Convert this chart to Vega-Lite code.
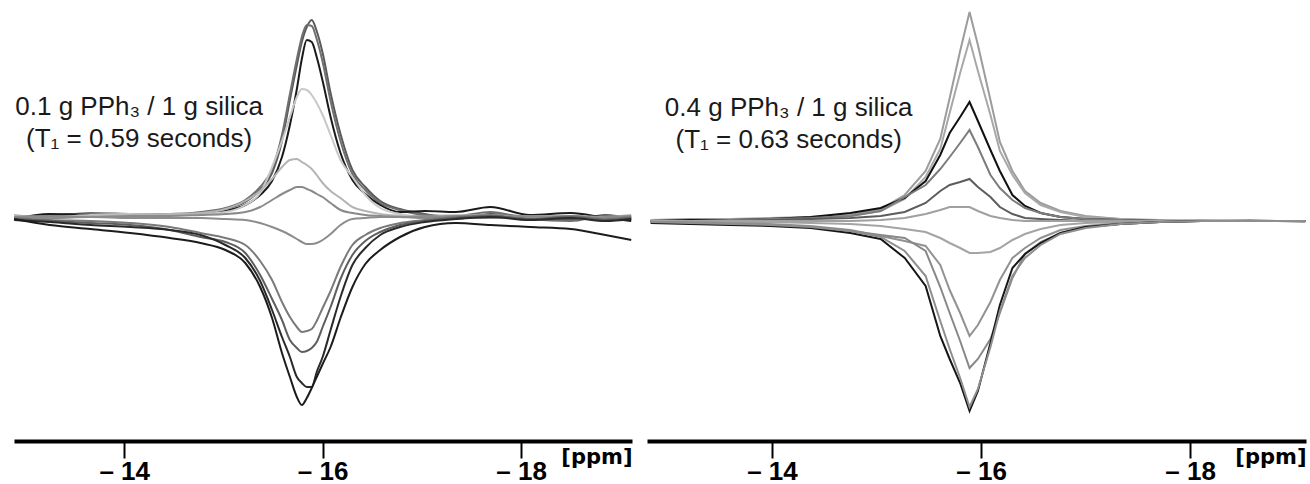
{
"$schema": "https://vega.github.io/schema/vega-lite/v6.json",
"padding": {"left": 10, "top": 0, "right": 0, "bottom": 0},
"background": "white",
"spacing": 15,
"bounds": "flush",
"config": {"view": {"stroke": null}, "font": "Liberation Sans"},
"resolve": {"scale": {"color": "independent", "x": "independent", "y": "independent"}},
"hconcat": [
{
"width": 618, "height": 441,
"encoding": {
 "x": {"field": "x", "type": "quantitative", "scale": {"domain": [-19.118, -12.889], "reverse": true, "nice": false, "zero": false},
  "axis": {"values": [-14, -16, -18], "labelExpr": "'– ' + abs(datum.value)", "domainColor": "black", "domainWidth": 4, "tickColor": "black", "tickWidth": 2, "tickSize": 17, "labelFont": "Liberation Sans", "labelFontWeight": "bold", "labelFontSize": 26, "labelColor": "black", "labelPadding": 26, "labelBaseline": "bottom", "labelFlush": false, "labelOverlap": false, "grid": false, "title": "[ppm]", "titleFont": "DejaVu Sans", "titleFontSize": 21, "titleFontWeight": "bold", "titleColor": "black", "titleAlign": "right", "titleX": 618, "titleY": 22, "titleBaseline": "alphabetic"}},
 "y": {"field": "y", "type": "quantitative", "scale": {"domain": [-224, 217], "nice": false, "zero": false}, "axis": null}
},
"layer": [
{
"data": {"values": [
{"s":"L1","x":-12.89,"y":-1},{"s":"L1","x":-13.25,"y":2},{"s":"L1","x":-13.66,"y":3},{"s":"L1","x":-14.06,"y":2},{"s":"L1","x":-14.46,"y":3},{"s":"L1","x":-14.77,"y":4},{"s":"L1","x":-15.02,"y":8},{"s":"L1","x":-15.22,"y":15},{"s":"L1","x":-15.37,"y":27},{"s":"L1","x":-15.49,"y":44},{"s":"L1","x":-15.59,"y":76},{"s":"L1","x":-15.67,"y":117},{"s":"L1","x":-15.74,"y":152},{"s":"L1","x":-15.79,"y":175},{"s":"L1","x":-15.84,"y":190},{"s":"L1","x":-15.89,"y":197},{"s":"L1","x":-15.94,"y":186},{"s":"L1","x":-16.0,"y":164},{"s":"L1","x":-16.08,"y":124},{"s":"L1","x":-16.18,"y":83},{"s":"L1","x":-16.3,"y":47},{"s":"L1","x":-16.43,"y":30},{"s":"L1","x":-16.58,"y":16},{"s":"L1","x":-16.78,"y":8},{"s":"L1","x":-17.03,"y":3},{"s":"L1","x":-17.34,"y":-2},{"s":"L1","x":-17.69,"y":3},{"s":"L1","x":-18.09,"y":0},{"s":"L1","x":-18.5,"y":-3},{"s":"L1","x":-18.85,"y":2},{"s":"L1","x":-19.11,"y":-2},
{"s":"L2","x":-12.89,"y":0},{"s":"L2","x":-13.25,"y":1},{"s":"L2","x":-13.66,"y":4},{"s":"L2","x":-14.06,"y":3},{"s":"L2","x":-14.46,"y":2},{"s":"L2","x":-14.77,"y":5},{"s":"L2","x":-15.02,"y":9},{"s":"L2","x":-15.22,"y":17},{"s":"L2","x":-15.37,"y":30},{"s":"L2","x":-15.49,"y":48},{"s":"L2","x":-15.59,"y":82},{"s":"L2","x":-15.67,"y":123},{"s":"L2","x":-15.74,"y":158},{"s":"L2","x":-15.79,"y":180},{"s":"L2","x":-15.84,"y":192},{"s":"L2","x":-15.89,"y":191},{"s":"L2","x":-15.94,"y":178},{"s":"L2","x":-16.0,"y":155},{"s":"L2","x":-16.08,"y":116},{"s":"L2","x":-16.18,"y":76},{"s":"L2","x":-16.3,"y":43},{"s":"L2","x":-16.43,"y":27},{"s":"L2","x":-16.58,"y":14},{"s":"L2","x":-16.78,"y":7},{"s":"L2","x":-17.03,"y":2},{"s":"L2","x":-17.34,"y":1},{"s":"L2","x":-17.69,"y":5},{"s":"L2","x":-18.09,"y":-2},{"s":"L2","x":-18.5,"y":-4},{"s":"L2","x":-18.85,"y":1},{"s":"L2","x":-19.11,"y":-3},
{"s":"L3","x":-12.89,"y":-2},{"s":"L3","x":-13.25,"y":3},{"s":"L3","x":-13.66,"y":2},{"s":"L3","x":-14.06,"y":1},{"s":"L3","x":-14.46,"y":2},{"s":"L3","x":-14.77,"y":3},{"s":"L3","x":-15.02,"y":6},{"s":"L3","x":-15.22,"y":12},{"s":"L3","x":-15.37,"y":22},{"s":"L3","x":-15.49,"y":36},{"s":"L3","x":-15.59,"y":60},{"s":"L3","x":-15.67,"y":92},{"s":"L3","x":-15.74,"y":128},{"s":"L3","x":-15.79,"y":158},{"s":"L3","x":-15.84,"y":177},{"s":"L3","x":-15.89,"y":175},{"s":"L3","x":-15.94,"y":160},{"s":"L3","x":-16.0,"y":136},{"s":"L3","x":-16.08,"y":100},{"s":"L3","x":-16.18,"y":64},{"s":"L3","x":-16.3,"y":37},{"s":"L3","x":-16.43,"y":23},{"s":"L3","x":-16.58,"y":12},{"s":"L3","x":-16.78,"y":5},{"s":"L3","x":-17.03,"y":6},{"s":"L3","x":-17.34,"y":5},{"s":"L3","x":-17.69,"y":10},{"s":"L3","x":-18.09,"y":2},{"s":"L3","x":-18.5,"y":4},{"s":"L3","x":-18.85,"y":-1},{"s":"L3","x":-19.11,"y":-4},
{"s":"L4","x":-12.89,"y":1},{"s":"L4","x":-13.25,"y":0},{"s":"L4","x":-13.66,"y":2},{"s":"L4","x":-14.06,"y":3},{"s":"L4","x":-14.46,"y":2},{"s":"L4","x":-14.77,"y":3},{"s":"L4","x":-15.02,"y":5},{"s":"L4","x":-15.22,"y":12},{"s":"L4","x":-15.37,"y":24},{"s":"L4","x":-15.49,"y":50},{"s":"L4","x":-15.59,"y":76},{"s":"L4","x":-15.67,"y":100},{"s":"L4","x":-15.74,"y":120},{"s":"L4","x":-15.79,"y":128},{"s":"L4","x":-15.84,"y":127},{"s":"L4","x":-15.89,"y":122},{"s":"L4","x":-15.94,"y":114},{"s":"L4","x":-16.0,"y":102},{"s":"L4","x":-16.08,"y":82},{"s":"L4","x":-16.18,"y":57},{"s":"L4","x":-16.3,"y":40},{"s":"L4","x":-16.43,"y":22},{"s":"L4","x":-16.58,"y":9},{"s":"L4","x":-16.78,"y":3},{"s":"L4","x":-17.03,"y":0},{"s":"L4","x":-17.34,"y":2},{"s":"L4","x":-17.69,"y":-1},{"s":"L4","x":-18.09,"y":1},{"s":"L4","x":-18.5,"y":0},{"s":"L4","x":-18.85,"y":-2},{"s":"L4","x":-19.11,"y":1},
{"s":"L5","x":-12.89,"y":2},{"s":"L5","x":-13.25,"y":-1},{"s":"L5","x":-13.66,"y":1},{"s":"L5","x":-14.06,"y":2},{"s":"L5","x":-14.46,"y":3},{"s":"L5","x":-14.77,"y":4},{"s":"L5","x":-15.02,"y":8},{"s":"L5","x":-15.22,"y":16},{"s":"L5","x":-15.37,"y":26},{"s":"L5","x":-15.49,"y":38},{"s":"L5","x":-15.59,"y":50},{"s":"L5","x":-15.67,"y":57},{"s":"L5","x":-15.74,"y":58},{"s":"L5","x":-15.79,"y":55},{"s":"L5","x":-15.84,"y":52},{"s":"L5","x":-15.89,"y":48},{"s":"L5","x":-15.94,"y":42},{"s":"L5","x":-16.0,"y":34},{"s":"L5","x":-16.08,"y":26},{"s":"L5","x":-16.18,"y":19},{"s":"L5","x":-16.3,"y":10},{"s":"L5","x":-16.43,"y":6},{"s":"L5","x":-16.58,"y":3},{"s":"L5","x":-16.78,"y":1},{"s":"L5","x":-17.03,"y":-1},{"s":"L5","x":-17.34,"y":1},{"s":"L5","x":-17.69,"y":2},{"s":"L5","x":-18.09,"y":-1},{"s":"L5","x":-18.5,"y":1},{"s":"L5","x":-18.85,"y":0},{"s":"L5","x":-19.11,"y":2},
{"s":"L6","x":-12.89,"y":0},{"s":"L6","x":-13.25,"y":1},{"s":"L6","x":-13.66,"y":0},{"s":"L6","x":-14.06,"y":1},{"s":"L6","x":-14.46,"y":1},{"s":"L6","x":-14.77,"y":2},{"s":"L6","x":-15.02,"y":3},{"s":"L6","x":-15.22,"y":5},{"s":"L6","x":-15.37,"y":10},{"s":"L6","x":-15.49,"y":17},{"s":"L6","x":-15.59,"y":23},{"s":"L6","x":-15.67,"y":27},{"s":"L6","x":-15.74,"y":30},{"s":"L6","x":-15.79,"y":30},{"s":"L6","x":-15.84,"y":28},{"s":"L6","x":-15.89,"y":26},{"s":"L6","x":-15.94,"y":23},{"s":"L6","x":-16.0,"y":20},{"s":"L6","x":-16.08,"y":14},{"s":"L6","x":-16.18,"y":7},{"s":"L6","x":-16.3,"y":4},{"s":"L6","x":-16.43,"y":2},{"s":"L6","x":-16.58,"y":1},{"s":"L6","x":-16.78,"y":0},{"s":"L6","x":-17.03,"y":-1},{"s":"L6","x":-17.34,"y":1},{"s":"L6","x":-17.69,"y":0},{"s":"L6","x":-18.09,"y":1},{"s":"L6","x":-18.5,"y":-1},{"s":"L6","x":-18.85,"y":0},{"s":"L6","x":-19.11,"y":1},
{"s":"L7","x":-12.89,"y":0},{"s":"L7","x":-13.25,"y":-1},{"s":"L7","x":-13.66,"y":0},{"s":"L7","x":-14.06,"y":-1},{"s":"L7","x":-14.46,"y":-1},{"s":"L7","x":-14.77,"y":-1},{"s":"L7","x":-15.02,"y":-2},{"s":"L7","x":-15.22,"y":-3},{"s":"L7","x":-15.37,"y":-6},{"s":"L7","x":-15.49,"y":-10},{"s":"L7","x":-15.59,"y":-14},{"s":"L7","x":-15.67,"y":-18},{"s":"L7","x":-15.74,"y":-22},{"s":"L7","x":-15.79,"y":-25},{"s":"L7","x":-15.84,"y":-27},{"s":"L7","x":-15.89,"y":-27},{"s":"L7","x":-15.94,"y":-26},{"s":"L7","x":-16.0,"y":-23},{"s":"L7","x":-16.08,"y":-17},{"s":"L7","x":-16.18,"y":-8},{"s":"L7","x":-16.3,"y":-2},{"s":"L7","x":-16.43,"y":-1},{"s":"L7","x":-16.58,"y":0},{"s":"L7","x":-16.78,"y":0},{"s":"L7","x":-17.03,"y":1},{"s":"L7","x":-17.34,"y":0},{"s":"L7","x":-17.69,"y":-1},{"s":"L7","x":-18.09,"y":0},{"s":"L7","x":-18.5,"y":1},{"s":"L7","x":-18.85,"y":-1},{"s":"L7","x":-19.11,"y":0},
{"s":"L8","x":-12.89,"y":-1},{"s":"L8","x":-13.25,"y":-3},{"s":"L8","x":-13.66,"y":-4},{"s":"L8","x":-14.06,"y":-6},{"s":"L8","x":-14.46,"y":-10},{"s":"L8","x":-14.77,"y":-16},{"s":"L8","x":-15.02,"y":-21},{"s":"L8","x":-15.22,"y":-28},{"s":"L8","x":-15.37,"y":-44},{"s":"L8","x":-15.49,"y":-63},{"s":"L8","x":-15.59,"y":-85},{"s":"L8","x":-15.67,"y":-100},{"s":"L8","x":-15.74,"y":-110},{"s":"L8","x":-15.79,"y":-115},{"s":"L8","x":-15.84,"y":-114},{"s":"L8","x":-15.89,"y":-112},{"s":"L8","x":-15.94,"y":-104},{"s":"L8","x":-16.0,"y":-91},{"s":"L8","x":-16.08,"y":-74},{"s":"L8","x":-16.18,"y":-50},{"s":"L8","x":-16.3,"y":-28},{"s":"L8","x":-16.43,"y":-18},{"s":"L8","x":-16.58,"y":-11},{"s":"L8","x":-16.78,"y":-6},{"s":"L8","x":-17.03,"y":-3},{"s":"L8","x":-17.34,"y":0},{"s":"L8","x":-17.69,"y":2},{"s":"L8","x":-18.09,"y":-3},{"s":"L8","x":-18.5,"y":1},{"s":"L8","x":-18.85,"y":-2},{"s":"L8","x":-19.11,"y":0},
{"s":"L9","x":-12.89,"y":-2},{"s":"L9","x":-13.25,"y":-4},{"s":"L9","x":-13.66,"y":-6},{"s":"L9","x":-14.06,"y":-8},{"s":"L9","x":-14.46,"y":-13},{"s":"L9","x":-14.77,"y":-20},{"s":"L9","x":-15.02,"y":-25},{"s":"L9","x":-15.22,"y":-36},{"s":"L9","x":-15.37,"y":-58},{"s":"L9","x":-15.49,"y":-82},{"s":"L9","x":-15.59,"y":-103},{"s":"L9","x":-15.67,"y":-123},{"s":"L9","x":-15.74,"y":-131},{"s":"L9","x":-15.79,"y":-135},{"s":"L9","x":-15.84,"y":-134},{"s":"L9","x":-15.89,"y":-131},{"s":"L9","x":-15.94,"y":-125},{"s":"L9","x":-16.0,"y":-110},{"s":"L9","x":-16.08,"y":-90},{"s":"L9","x":-16.18,"y":-62},{"s":"L9","x":-16.3,"y":-38},{"s":"L9","x":-16.43,"y":-24},{"s":"L9","x":-16.58,"y":-15},{"s":"L9","x":-16.78,"y":-8},{"s":"L9","x":-17.03,"y":-4},{"s":"L9","x":-17.34,"y":-1},{"s":"L9","x":-17.69,"y":1},{"s":"L9","x":-18.09,"y":-2},{"s":"L9","x":-18.5,"y":0},{"s":"L9","x":-18.85,"y":-3},{"s":"L9","x":-19.11,"y":-1},
{"s":"L10","x":-12.89,"y":-3},{"s":"L10","x":-13.25,"y":-5},{"s":"L10","x":-13.66,"y":-8},{"s":"L10","x":-14.06,"y":-10},{"s":"L10","x":-14.46,"y":-13},{"s":"L10","x":-14.77,"y":-18},{"s":"L10","x":-15.02,"y":-28},{"s":"L10","x":-15.22,"y":-41},{"s":"L10","x":-15.37,"y":-64},{"s":"L10","x":-15.49,"y":-93},{"s":"L10","x":-15.59,"y":-120},{"s":"L10","x":-15.67,"y":-140},{"s":"L10","x":-15.74,"y":-160},{"s":"L10","x":-15.79,"y":-166},{"s":"L10","x":-15.84,"y":-170},{"s":"L10","x":-15.89,"y":-170},{"s":"L10","x":-15.94,"y":-155},{"s":"L10","x":-16.0,"y":-140},{"s":"L10","x":-16.08,"y":-113},{"s":"L10","x":-16.18,"y":-80},{"s":"L10","x":-16.3,"y":-48},{"s":"L10","x":-16.43,"y":-31},{"s":"L10","x":-16.58,"y":-18},{"s":"L10","x":-16.78,"y":-10},{"s":"L10","x":-17.03,"y":-5},{"s":"L10","x":-17.34,"y":-2},{"s":"L10","x":-17.69,"y":0},{"s":"L10","x":-18.09,"y":-3},{"s":"L10","x":-18.5,"y":-1},{"s":"L10","x":-18.85,"y":-4},{"s":"L10","x":-19.11,"y":-2},
{"s":"L11","x":-12.89,"y":-2},{"s":"L11","x":-13.25,"y":-8},{"s":"L11","x":-13.66,"y":-12},{"s":"L11","x":-14.06,"y":-16},{"s":"L11","x":-14.46,"y":-21},{"s":"L11","x":-14.77,"y":-26},{"s":"L11","x":-15.02,"y":-33},{"s":"L11","x":-15.22,"y":-46},{"s":"L11","x":-15.37,"y":-70},{"s":"L11","x":-15.49,"y":-101},{"s":"L11","x":-15.59,"y":-136},{"s":"L11","x":-15.67,"y":-160},{"s":"L11","x":-15.74,"y":-180},{"s":"L11","x":-15.79,"y":-188},{"s":"L11","x":-15.84,"y":-181},{"s":"L11","x":-15.89,"y":-171},{"s":"L11","x":-15.94,"y":-160},{"s":"L11","x":-16.0,"y":-147},{"s":"L11","x":-16.08,"y":-130},{"s":"L11","x":-16.18,"y":-101},{"s":"L11","x":-16.3,"y":-70},{"s":"L11","x":-16.43,"y":-47},{"s":"L11","x":-16.58,"y":-33},{"s":"L11","x":-16.78,"y":-20},{"s":"L11","x":-17.03,"y":-10},{"s":"L11","x":-17.34,"y":-6},{"s":"L11","x":-17.69,"y":-8},{"s":"L11","x":-18.09,"y":-10},{"s":"L11","x":-18.5,"y":-12},{"s":"L11","x":-18.85,"y":-18},{"s":"L11","x":-19.11,"y":-23}
]},
"mark": {"type": "line", "strokeWidth": 2, "interpolate": "monotone"},
"encoding": {"color": {"field": "s", "type": "nominal", "legend": null, "scale": {"domain": ["L1","L2","L3","L4","L5","L6","L7","L8","L9","L10","L11"], "range": ["#5a5a5a","#707070","#1a1a1a","#c8c8c8","#b4b4b4","#8a8a8a","#8c8c8c","#7a7a7a","#5e5e5e","#2a2a2a","#1c1c1c"]}}}
},
{
"data": {"values": [{"t": "0.1 g PPh₃ / 1 g silica", "x": -14.15, "y": 102}, {"t": "(T₁ = 0.59 seconds)", "x": -14.15, "y": 70}]},
"mark": {"type": "text", "fontSize": 26, "align": "center", "baseline": "alphabetic", "color": "#1a1a1a", "font": "Liberation Sans"},
"encoding": {"text": {"field": "t"}}
}
]
},
{
"width": 659, "height": 441,
"encoding": {
 "x": {"field": "x", "type": "quantitative", "scale": {"domain": [-19.108, -12.805], "reverse": true, "nice": false, "zero": false},
  "axis": {"values": [-14, -16, -18], "labelExpr": "'– ' + abs(datum.value)", "domainColor": "black", "domainWidth": 4, "tickColor": "black", "tickWidth": 2, "tickSize": 17, "labelFont": "Liberation Sans", "labelFontWeight": "bold", "labelFontSize": 26, "labelColor": "black", "labelPadding": 26, "labelBaseline": "bottom", "labelFlush": false, "labelOverlap": false, "grid": false, "title": "[ppm]", "titleFont": "DejaVu Sans", "titleFontSize": 21, "titleFontWeight": "bold", "titleColor": "black", "titleAlign": "right", "titleX": 659, "titleY": 22, "titleBaseline": "alphabetic"}},
 "y": {"field": "y", "type": "quantitative", "scale": {"domain": [-220, 221], "nice": false, "zero": false}, "axis": null}
},
"layer": [
{
"data": {"values": [
{"s":"R1","x":-12.84,"y":1},{"s":"R1","x":-13.22,"y":2},{"s":"R1","x":-13.6,"y":2},{"s":"R1","x":-13.98,"y":3},{"s":"R1","x":-14.37,"y":4},{"s":"R1","x":-14.75,"y":6},{"s":"R1","x":-15.04,"y":12},{"s":"R1","x":-15.27,"y":26},{"s":"R1","x":-15.47,"y":50},{"s":"R1","x":-15.61,"y":82},{"s":"R1","x":-15.7,"y":123},{"s":"R1","x":-15.8,"y":170},{"s":"R1","x":-15.89,"y":209},{"s":"R1","x":-15.97,"y":176},{"s":"R1","x":-16.09,"y":121},{"s":"R1","x":-16.18,"y":79},{"s":"R1","x":-16.3,"y":50},{"s":"R1","x":-16.42,"y":30},{"s":"R1","x":-16.57,"y":18},{"s":"R1","x":-16.76,"y":10},{"s":"R1","x":-17.0,"y":5},{"s":"R1","x":-17.33,"y":2},{"s":"R1","x":-17.71,"y":1},{"s":"R1","x":-18.1,"y":0},{"s":"R1","x":-18.57,"y":1},{"s":"R1","x":-19.1,"y":-1},
{"s":"R2","x":-12.84,"y":1},{"s":"R2","x":-13.22,"y":1},{"s":"R2","x":-13.6,"y":2},{"s":"R2","x":-13.98,"y":2},{"s":"R2","x":-14.37,"y":3},{"s":"R2","x":-14.75,"y":5},{"s":"R2","x":-15.04,"y":10},{"s":"R2","x":-15.27,"y":22},{"s":"R2","x":-15.47,"y":44},{"s":"R2","x":-15.61,"y":72},{"s":"R2","x":-15.7,"y":108},{"s":"R2","x":-15.8,"y":148},{"s":"R2","x":-15.89,"y":181},{"s":"R2","x":-15.97,"y":150},{"s":"R2","x":-16.09,"y":106},{"s":"R2","x":-16.18,"y":70},{"s":"R2","x":-16.3,"y":46},{"s":"R2","x":-16.42,"y":28},{"s":"R2","x":-16.57,"y":16},{"s":"R2","x":-16.76,"y":9},{"s":"R2","x":-17.0,"y":4},{"s":"R2","x":-17.33,"y":2},{"s":"R2","x":-17.71,"y":0},{"s":"R2","x":-18.1,"y":1},{"s":"R2","x":-18.57,"y":0},{"s":"R2","x":-19.1,"y":0},
{"s":"R3","x":-12.84,"y":0},{"s":"R3","x":-13.22,"y":1},{"s":"R3","x":-13.6,"y":1},{"s":"R3","x":-13.98,"y":2},{"s":"R3","x":-14.37,"y":4},{"s":"R3","x":-14.75,"y":8},{"s":"R3","x":-15.04,"y":13},{"s":"R3","x":-15.27,"y":23},{"s":"R3","x":-15.47,"y":40},{"s":"R3","x":-15.61,"y":66},{"s":"R3","x":-15.7,"y":88},{"s":"R3","x":-15.8,"y":104},{"s":"R3","x":-15.89,"y":119},{"s":"R3","x":-15.97,"y":100},{"s":"R3","x":-16.09,"y":71},{"s":"R3","x":-16.18,"y":50},{"s":"R3","x":-16.3,"y":26},{"s":"R3","x":-16.42,"y":15},{"s":"R3","x":-16.57,"y":8},{"s":"R3","x":-16.76,"y":4},{"s":"R3","x":-17.0,"y":2},{"s":"R3","x":-17.33,"y":1},{"s":"R3","x":-17.71,"y":0},{"s":"R3","x":-18.1,"y":0},{"s":"R3","x":-18.57,"y":0},{"s":"R3","x":-19.1,"y":0},
{"s":"R4","x":-12.84,"y":0},{"s":"R4","x":-13.22,"y":0},{"s":"R4","x":-13.6,"y":1},{"s":"R4","x":-13.98,"y":2},{"s":"R4","x":-14.37,"y":3},{"s":"R4","x":-14.75,"y":5},{"s":"R4","x":-15.04,"y":10},{"s":"R4","x":-15.27,"y":24},{"s":"R4","x":-15.47,"y":36},{"s":"R4","x":-15.61,"y":52},{"s":"R4","x":-15.7,"y":64},{"s":"R4","x":-15.8,"y":78},{"s":"R4","x":-15.89,"y":91},{"s":"R4","x":-15.97,"y":74},{"s":"R4","x":-16.09,"y":46},{"s":"R4","x":-16.18,"y":33},{"s":"R4","x":-16.3,"y":21},{"s":"R4","x":-16.42,"y":13},{"s":"R4","x":-16.57,"y":8},{"s":"R4","x":-16.76,"y":4},{"s":"R4","x":-17.0,"y":2},{"s":"R4","x":-17.33,"y":1},{"s":"R4","x":-17.71,"y":0},{"s":"R4","x":-18.1,"y":0},{"s":"R4","x":-18.57,"y":0},{"s":"R4","x":-19.1,"y":0},
{"s":"R5","x":-12.84,"y":0},{"s":"R5","x":-13.22,"y":0},{"s":"R5","x":-13.6,"y":0},{"s":"R5","x":-13.98,"y":1},{"s":"R5","x":-14.37,"y":2},{"s":"R5","x":-14.75,"y":3},{"s":"R5","x":-15.04,"y":5},{"s":"R5","x":-15.27,"y":9},{"s":"R5","x":-15.47,"y":18},{"s":"R5","x":-15.61,"y":30},{"s":"R5","x":-15.7,"y":36},{"s":"R5","x":-15.8,"y":39},{"s":"R5","x":-15.89,"y":42},{"s":"R5","x":-15.97,"y":34},{"s":"R5","x":-16.09,"y":24},{"s":"R5","x":-16.18,"y":14},{"s":"R5","x":-16.3,"y":7},{"s":"R5","x":-16.42,"y":3},{"s":"R5","x":-16.57,"y":2},{"s":"R5","x":-16.76,"y":1},{"s":"R5","x":-17.0,"y":0},{"s":"R5","x":-17.33,"y":0},{"s":"R5","x":-17.71,"y":0},{"s":"R5","x":-18.1,"y":0},{"s":"R5","x":-18.57,"y":0},{"s":"R5","x":-19.1,"y":0},
{"s":"R6","x":-12.84,"y":0},{"s":"R6","x":-13.22,"y":0},{"s":"R6","x":-13.6,"y":0},{"s":"R6","x":-13.98,"y":0},{"s":"R6","x":-14.37,"y":0},{"s":"R6","x":-14.75,"y":0},{"s":"R6","x":-15.04,"y":1},{"s":"R6","x":-15.27,"y":3},{"s":"R6","x":-15.47,"y":7},{"s":"R6","x":-15.61,"y":11},{"s":"R6","x":-15.7,"y":14},{"s":"R6","x":-15.8,"y":14},{"s":"R6","x":-15.89,"y":14},{"s":"R6","x":-15.97,"y":10},{"s":"R6","x":-16.09,"y":5},{"s":"R6","x":-16.18,"y":3},{"s":"R6","x":-16.3,"y":1},{"s":"R6","x":-16.42,"y":0},{"s":"R6","x":-16.57,"y":0},{"s":"R6","x":-16.76,"y":0},{"s":"R6","x":-17.0,"y":0},{"s":"R6","x":-17.33,"y":0},{"s":"R6","x":-17.71,"y":0},{"s":"R6","x":-18.1,"y":0},{"s":"R6","x":-18.57,"y":0},{"s":"R6","x":-19.1,"y":0},
{"s":"R7","x":-12.84,"y":0},{"s":"R7","x":-13.22,"y":0},{"s":"R7","x":-13.6,"y":-1},{"s":"R7","x":-13.98,"y":-1},{"s":"R7","x":-14.37,"y":-2},{"s":"R7","x":-14.75,"y":-3},{"s":"R7","x":-15.04,"y":-5},{"s":"R7","x":-15.27,"y":-8},{"s":"R7","x":-15.47,"y":-11},{"s":"R7","x":-15.61,"y":-17},{"s":"R7","x":-15.7,"y":-22},{"s":"R7","x":-15.8,"y":-27},{"s":"R7","x":-15.89,"y":-32},{"s":"R7","x":-15.97,"y":-32},{"s":"R7","x":-16.09,"y":-31},{"s":"R7","x":-16.18,"y":-27},{"s":"R7","x":-16.3,"y":-19},{"s":"R7","x":-16.42,"y":-13},{"s":"R7","x":-16.57,"y":-8},{"s":"R7","x":-16.76,"y":-4},{"s":"R7","x":-17.0,"y":-2},{"s":"R7","x":-17.33,"y":-1},{"s":"R7","x":-17.71,"y":0},{"s":"R7","x":-18.1,"y":0},{"s":"R7","x":-18.57,"y":0},{"s":"R7","x":-19.1,"y":0},
{"s":"R8","x":-12.84,"y":-1},{"s":"R8","x":-13.22,"y":-1},{"s":"R8","x":-13.6,"y":-2},{"s":"R8","x":-13.98,"y":-3},{"s":"R8","x":-14.37,"y":-5},{"s":"R8","x":-14.75,"y":-9},{"s":"R8","x":-15.04,"y":-15},{"s":"R8","x":-15.27,"y":-20},{"s":"R8","x":-15.47,"y":-25},{"s":"R8","x":-15.61,"y":-44},{"s":"R8","x":-15.7,"y":-69},{"s":"R8","x":-15.8,"y":-92},{"s":"R8","x":-15.89,"y":-115},{"s":"R8","x":-15.97,"y":-104},{"s":"R8","x":-16.09,"y":-81},{"s":"R8","x":-16.18,"y":-59},{"s":"R8","x":-16.3,"y":-37},{"s":"R8","x":-16.42,"y":-27},{"s":"R8","x":-16.57,"y":-17},{"s":"R8","x":-16.76,"y":-9},{"s":"R8","x":-17.0,"y":-5},{"s":"R8","x":-17.33,"y":-2},{"s":"R8","x":-17.71,"y":-1},{"s":"R8","x":-18.1,"y":0},{"s":"R8","x":-18.57,"y":0},{"s":"R8","x":-19.1,"y":0},
{"s":"R9","x":-12.84,"y":-1},{"s":"R9","x":-13.22,"y":-2},{"s":"R9","x":-13.6,"y":-3},{"s":"R9","x":-13.98,"y":-4},{"s":"R9","x":-14.37,"y":-6},{"s":"R9","x":-14.75,"y":-10},{"s":"R9","x":-15.04,"y":-14},{"s":"R9","x":-15.27,"y":-17},{"s":"R9","x":-15.47,"y":-30},{"s":"R9","x":-15.61,"y":-66},{"s":"R9","x":-15.7,"y":-92},{"s":"R9","x":-15.8,"y":-120},{"s":"R9","x":-15.89,"y":-147},{"s":"R9","x":-15.97,"y":-138},{"s":"R9","x":-16.09,"y":-118},{"s":"R9","x":-16.18,"y":-92},{"s":"R9","x":-16.3,"y":-57},{"s":"R9","x":-16.42,"y":-33},{"s":"R9","x":-16.57,"y":-21},{"s":"R9","x":-16.76,"y":-12},{"s":"R9","x":-17.0,"y":-6},{"s":"R9","x":-17.33,"y":-3},{"s":"R9","x":-17.71,"y":-1},{"s":"R9","x":-18.1,"y":0},{"s":"R9","x":-18.57,"y":0},{"s":"R9","x":-19.1,"y":0},
{"s":"R10","x":-12.84,"y":-2},{"s":"R10","x":-13.22,"y":-3},{"s":"R10","x":-13.6,"y":-4},{"s":"R10","x":-13.98,"y":-5},{"s":"R10","x":-14.37,"y":-7},{"s":"R10","x":-14.75,"y":-12},{"s":"R10","x":-15.04,"y":-18},{"s":"R10","x":-15.27,"y":-37},{"s":"R10","x":-15.47,"y":-65},{"s":"R10","x":-15.61,"y":-115},{"s":"R10","x":-15.7,"y":-138},{"s":"R10","x":-15.8,"y":-162},{"s":"R10","x":-15.89,"y":-190},{"s":"R10","x":-15.97,"y":-170},{"s":"R10","x":-16.09,"y":-122},{"s":"R10","x":-16.18,"y":-84},{"s":"R10","x":-16.3,"y":-47},{"s":"R10","x":-16.42,"y":-33},{"s":"R10","x":-16.57,"y":-22},{"s":"R10","x":-16.76,"y":-12},{"s":"R10","x":-17.0,"y":-6},{"s":"R10","x":-17.33,"y":-3},{"s":"R10","x":-17.71,"y":-1},{"s":"R10","x":-18.1,"y":0},{"s":"R10","x":-18.57,"y":0},{"s":"R10","x":-19.1,"y":0},
{"s":"R11","x":-12.84,"y":-1},{"s":"R11","x":-13.22,"y":-2},{"s":"R11","x":-13.6,"y":-3},{"s":"R11","x":-13.98,"y":-4},{"s":"R11","x":-14.37,"y":-6},{"s":"R11","x":-14.75,"y":-10},{"s":"R11","x":-15.04,"y":-16},{"s":"R11","x":-15.27,"y":-30},{"s":"R11","x":-15.47,"y":-55},{"s":"R11","x":-15.61,"y":-100},{"s":"R11","x":-15.7,"y":-128},{"s":"R11","x":-15.8,"y":-157},{"s":"R11","x":-15.89,"y":-186},{"s":"R11","x":-15.97,"y":-168},{"s":"R11","x":-16.09,"y":-126},{"s":"R11","x":-16.18,"y":-90},{"s":"R11","x":-16.3,"y":-55},{"s":"R11","x":-16.42,"y":-37},{"s":"R11","x":-16.57,"y":-24},{"s":"R11","x":-16.76,"y":-13},{"s":"R11","x":-17.0,"y":-7},{"s":"R11","x":-17.33,"y":-3},{"s":"R11","x":-17.71,"y":-1},{"s":"R11","x":-18.1,"y":0},{"s":"R11","x":-18.57,"y":0},{"s":"R11","x":-19.1,"y":0}
]},
"mark": {"type": "line", "strokeWidth": 2},
"encoding": {"color": {"field": "s", "type": "nominal", "legend": null, "scale": {"domain": ["R1","R2","R3","R4","R5","R6","R7","R8","R9","R10","R11"], "range": ["#9c9c9c","#a8a8a8","#111111","#7c7c7c","#5c5c5c","#a0a0a0","#a4a4a4","#929292","#888888","#161616","#8e8e8e"]}}}
},
{
"data": {"values": [{"t": "0.4 g PPh₃ / 1 g silica", "x": -14.16, "y": 105}, {"t": "(T₁ = 0.63 seconds)", "x": -14.16, "y": 73}]},
"mark": {"type": "text", "fontSize": 26, "align": "center", "baseline": "alphabetic", "color": "#1a1a1a", "font": "Liberation Sans"},
"encoding": {"text": {"field": "t"}}
}
]
}
]
}
